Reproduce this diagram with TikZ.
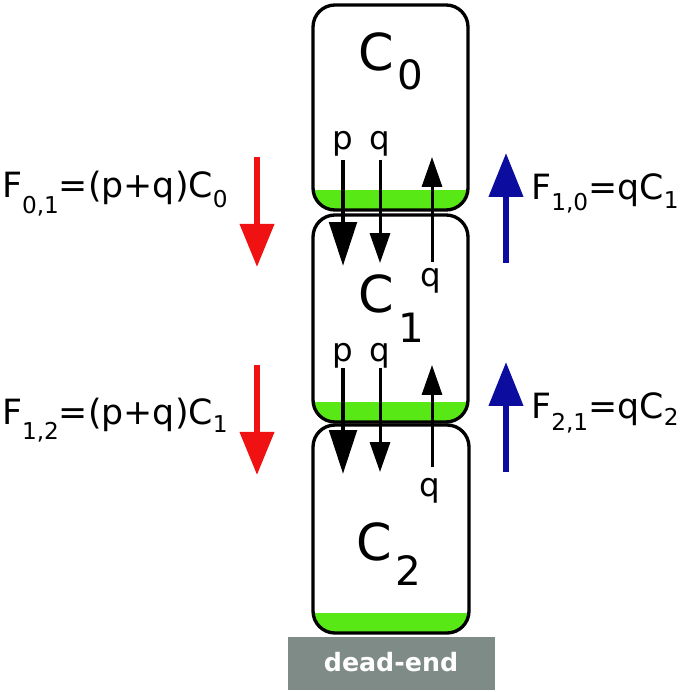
\documentclass[tikz,border=0pt]{standalone}
\usepackage{fontspec}
\setmainfont{DejaVu Sans}
\usetikzlibrary{arrows.meta}
\definecolor{greenc}{RGB}{88,232,22}
\definecolor{greyc}{RGB}{127,139,135}
\definecolor{redc}{RGB}{240,18,18}
\definecolor{bluec}{RGB}{12,12,158}
\newcommand\mysub[2]{\raisebox{-#1}{\fontsize{13.2}{15}\selectfont #2}}
\tikzset{
  boxc/.style={draw=black, line width=1.9pt, rounded corners=12.5pt},
  thickarr/.style={line width=2.8pt, -{Triangle[width=15.4pt,length=25pt]}},
  thinarr/.style={line width=1.7pt, -{Triangle[width=11.4pt,length=17pt]}},
  redarr/.style={draw=redc, line width=3.4pt, -{Triangle[width=19pt,length=24.5pt]}},
  bluearr/.style={draw=bluec, line width=3.4pt, -{Triangle[width=19pt,length=25pt]}},
  bigc/.style={font=\fontsize{29}{32}\selectfont, inner sep=0pt, anchor=base},
  bigsub/.style={font=\fontsize{23}{26}\selectfont, inner sep=0pt, anchor=base west},
  pq/.style={font=\fontsize{18.5}{21}\selectfont, inner sep=0pt, anchor=base},
  flab/.style={font=\fontsize{19.8}{24}\selectfont, inner sep=0pt},
}
\begin{document}
\begin{tikzpicture}[x=0.02cm,y=-0.02cm]
\useasboundingbox (0,0) rectangle (685,692);
% green liquid
\begin{scope}
  \clip[rounded corners=12.5pt] (313,5) rectangle (468,210);
  \fill[greenc] (313,190) rectangle (468,210);
\end{scope}
\begin{scope}
  \clip[rounded corners=12.5pt] (313,215) rectangle (468,422);
  \fill[greenc] (313,402) rectangle (468,422);
\end{scope}
\begin{scope}
  \clip[rounded corners=12.5pt] (313,425) rectangle (469,633);
  \fill[greenc] (313,613) rectangle (469,633);
\end{scope}
% boxes
\draw[boxc] (313,5) rectangle (468,210);
\draw[boxc] (313,215) rectangle (468,422);
\draw[boxc] (313,425) rectangle (469,633);
% dead-end
\fill[greyc] (288,637) rectangle (495,690);
\node[text=white, font=\fontsize{14.4}{16}\selectfont\bfseries, anchor=base] (de) at (391,671) {dead-end};
% compartment labels
\node[bigc] (c0) at (376,71) {C};
\node[bigsub] (c0s) at (397,90) {0};
\node[bigc] (c1) at (376,312) {C};
\node[bigsub] (c1s) at (398,342) {1};
\node[bigc] (c2) at (374,560) {C};
\node[bigsub] (c2s) at (395,585) {2};
% arrow coordinates, set 1
\coordinate (p1a) at (343,160); \coordinate (p1b) at (343,266);
\coordinate (q1a) at (380,160); \coordinate (q1b) at (380,263);
\coordinate (u1a) at (432,262); \coordinate (u1b) at (432,157);
% set 2
\coordinate (p2a) at (343,368); \coordinate (p2b) at (343,474);
\coordinate (q2a) at (380,368); \coordinate (q2b) at (380,472);
\coordinate (u2a) at (432,467); \coordinate (u2b) at (432,365);
\draw[thickarr] (p1a) -- (p1b);
\draw[thinarr] (q1a) -- (q1b);
\draw[thinarr] (u1a) -- (u1b);
\draw[thickarr] (p2a) -- (p2b);
\draw[thinarr] (q2a) -- (q2b);
\draw[thinarr] (u2a) -- (u2b);
\node[pq] (lp1) at (343,150) {p};
\node[pq] (lq1) at (380,150) {q};
\node[pq] (lu1) at (431,286) {q};
\node[pq] (lp2) at (343,361) {p};
\node[pq] (lq2) at (380,361) {q};
\node[pq] (lu2) at (430,496) {q};
% flux arrows
\coordinate (r1a) at (257,157); \coordinate (r1b) at (257,267);
\coordinate (r2a) at (257,365); \coordinate (r2b) at (257,475);
\coordinate (b1a) at (506,263); \coordinate (b1b) at (506,153);
\coordinate (b2a) at (506,472); \coordinate (b2b) at (506,362);
\draw[redarr] (r1a) -- (r1b);
\draw[redarr] (r2a) -- (r2b);
\draw[bluearr] (b1a) -- (b1b);
\draw[bluearr] (b2a) -- (b2b);
% flux labels
\node[flab, anchor=base east] (f01) at (228,198) {F\mysub{9pt}{0,1}=(p+q)C\mysub{5.5pt}{0}};
\node[flab, anchor=base east] (f12) at (228,424) {F\mysub{9pt}{1,2}=(p+q)C\mysub{5pt}{1}};
\node[flab, anchor=base west] (f10) at (531,200) {F\mysub{6pt}{1,0}=qC\mysub{5pt}{1}};
\node[flab, anchor=base west] (f21) at (531,418) {F\mysub{7pt}{2,1}=qC\mysub{4pt}{2}};
\end{tikzpicture}
\end{document}
